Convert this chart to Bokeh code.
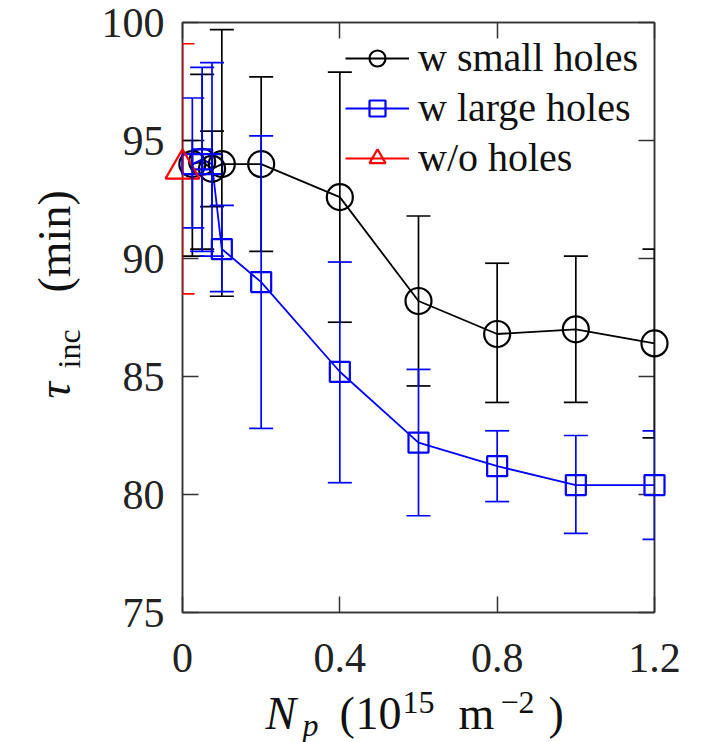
import math
from bokeh.plotting import figure
from bokeh.models import (ColumnDataSource, Whisker, TeeHead, Legend, LegendItem,
                          LinearAxis, FixedTicker, Range1d)
from bokeh.embed import file_html
from bokeh.resources import INLINE

# ---- data ----
small_x = [0.025, 0.05, 0.075, 0.1, 0.2, 0.4, 0.6, 0.8, 1.0, 1.2]
small_y = [94.0, 94.1, 93.8, 94.0, 94.0, 92.6, 88.2, 86.8, 87.0, 86.4]
small_hi = [95.0, 97.8, 95.4, 99.7, 97.7, 97.9, 91.8, 89.8, 90.1, 90.4]
small_lo = [90.1, 90.4, 92.2, 88.4, 90.3, 87.3, 84.6, 83.9, 83.9, 82.4]

large_x = [0.025, 0.05, 0.075, 0.1, 0.2, 0.4, 0.6, 0.8, 1.0, 1.2]
large_y = [94.0, 94.2, 94.0, 90.4, 89.0, 85.2, 82.2, 81.2, 80.4, 80.4]
large_hi = [96.8, 98.1, 98.3, 92.25, 95.2, 89.85, 85.3, 82.7, 82.5, 82.7]
large_lo = [91.3, 90.3, 90.1, 88.6, 82.8, 80.5, 79.1, 79.7, 78.35, 78.1]

none_x = [0.0]
none_y = [93.8]
none_hi = [99.1]
none_lo = [88.5]

series_names = ["w small holes", "w large holes", "w/o holes"]
x_ticks = [0, 0.4, 0.8, 1.2]
x_tick_labels = ["0", "0.4", "0.8", "1.2"]
y_ticks = [75, 80, 85, 90, 95, 100]
y_tick_labels = ["75", "80", "85", "90", "95", "100"]

X_MIN, X_MAX = 0, 1.2
Y_MIN, Y_MAX = 75, 100

FONT = "Liberation Serif"
FRAME = "#333333"

p = figure(width=708, height=742, x_range=Range1d(X_MIN, X_MAX), y_range=Range1d(Y_MIN, Y_MAX),
           output_backend="svg", toolbar_location=None,
           min_border_left=182, min_border_right=54, min_border_top=22, min_border_bottom=130)
p.grid.visible = False
p.outline_line_color = FRAME
p.outline_line_width = 1.5
p.background_fill_color = "white"
p.border_fill_color = "white"

def style_axis(ax, ticks, labels, show_labels=True):
    ax.ticker = FixedTicker(ticks=ticks)
    ax.major_tick_in = 16
    ax.major_tick_out = 0
    ax.minor_tick_line_color = None
    ax.major_tick_line_color = FRAME
    ax.major_tick_line_width = 1.5
    ax.axis_line_color = FRAME
    ax.axis_line_width = 1.5
    ax.major_label_text_font = FONT
    ax.major_label_text_color = "#222222"
    ax.major_label_text_font_size = "42px"
    if show_labels:
        ax.major_label_overrides = {t: l for t, l in zip(ticks, labels)}
    else:
        ax.major_label_overrides = {t: "" for t in ticks}
        ax.major_label_standoff = 0

style_axis(p.xaxis[0], x_ticks, x_tick_labels)
style_axis(p.yaxis[0], y_ticks, y_tick_labels)
p.xaxis[0].major_label_standoff = 31
p.yaxis[0].major_label_standoff = 18

ax_top = LinearAxis()
style_axis(ax_top, x_ticks, x_tick_labels, show_labels=False)
p.add_layout(ax_top, "above")
ax_right = LinearAxis()
style_axis(ax_right, y_ticks, y_tick_labels, show_labels=False)
p.add_layout(ax_right, "right")

colors = ["#000000", "#0000ff", "#ff0000"]
markers = ["circle", "square", "triangle"]
sizes = [26, 20, 34]
datasets = [(small_x, small_y, small_hi, small_lo),
            (large_x, large_y, large_hi, large_lo),
            (none_x, none_y, none_hi, none_lo)]

items = []
for (xs, ys, his, los), col, mk, sz, name in zip(datasets, colors, markers, sizes, series_names):
    src = ColumnDataSource(dict(x=xs, y=ys, hi=his, lo=los))
    w = Whisker(source=src, base="x", upper="hi", lower="lo", dimension="height",
                line_color=col, line_width=1.7, level="overlay",
                upper_head=TeeHead(size=24, line_color=col, line_width=1.7),
                lower_head=TeeHead(size=24, line_color=col, line_width=1.7))
    p.add_layout(w)
    ln = p.line("x", "y", source=src, line_color=col, line_width=1.8)
    # legend-only error-bar stroke (no data points of its own)
    eb = p.scatter("x", "y", source=ColumnDataSource(dict(x=[], y=[])), marker="cross",
                   size=38, line_color=col, line_width=1.7)
    sc = p.scatter("x", "y", source=src, marker=mk, size=sz, line_color=col,
                   line_width=2.2, fill_color=None, level="overlay")
    items.append(LegendItem(label=name, renderers=[ln, eb, sc]))

legend = Legend(items=items, location=(163, 431), orientation="vertical",
                label_text_font=FONT, label_text_font_size="40px", label_text_color="#111111",
                glyph_width=64, glyph_height=40, label_height=40, spacing=3,
                label_standoff=9, padding=0, margin=0,
                border_line_color=None, background_fill_alpha=0)
p.add_layout(legend, "center")

# ---- axis titles composed from text pieces, anchored at the frame's
#      bottom-left corner and shifted in pixels ----
def lab(dx, dy, text, size, style="normal", angle=0.0):
    p.text(x=X_MIN, y=Y_MIN, text=[text], x_offset=dx, y_offset=dy,
           text_font=FONT, text_font_size=size, text_font_style=style,
           text_color="#111111", text_align="left", text_baseline="alphabetic",
           angle=angle, level="overlay")

# x title: N_p (10^15 m^-2)
lab(83, 101, "N", "46px", "italic")
lab(120, 112, "p", "32px", "italic")
lab(157, 101, "(", "46px")
lab(173, 101, "10", "46px")
lab(220, 90, "15", "32px")
lab(276, 101, "m", "46px")
lab(318, 90, "\u22122", "32px")
lab(366, 101, ")", "46px")

# y title: tau_inc (min)
rot = math.pi / 2
lab(-128, -214, "\u03c4", "46px", "italic", rot)
lab(-114, -244, "inc", "32px", "normal", rot)
lab(-128, -320, "(min)", "46px", "normal", rot)

open("out.html", "w").write(file_html(p, INLINE))
